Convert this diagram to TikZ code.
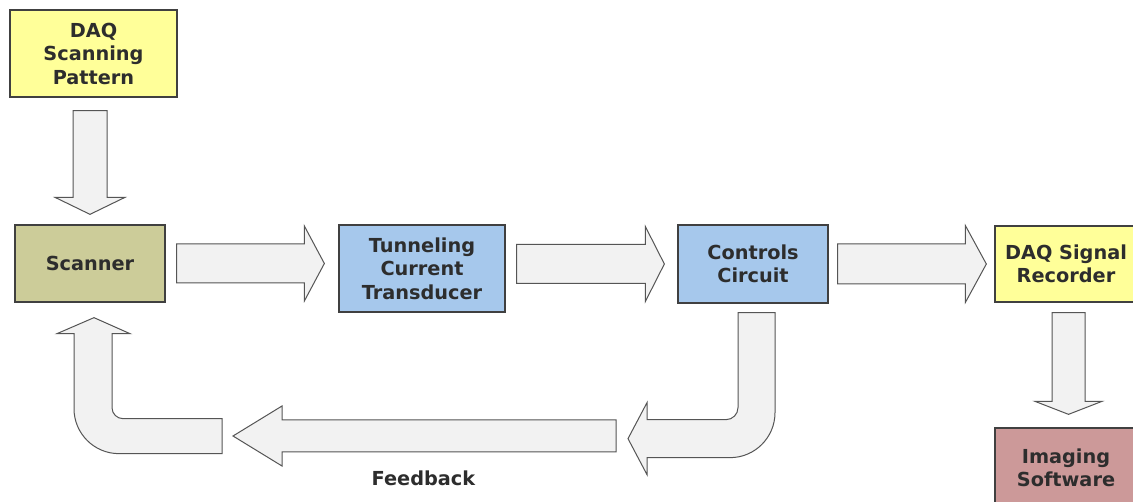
\documentclass[tikz,border=0pt]{standalone}
\usepackage{fontspec}
\setmainfont{DejaVu Sans}
\usetikzlibrary{calc}
\definecolor{padyellow}{RGB}{255,255,153}
\definecolor{scanolive}{RGB}{204,204,153}
\definecolor{ctlblue}{RGB}{166,200,236}
\definecolor{imgrose}{RGB}{204,153,153}
\definecolor{arrowfill}{RGB}{242,242,242}
\definecolor{arrowline}{RGB}{85,85,85}
\definecolor{boxline}{RGB}{64,64,64}
\definecolor{labeltext}{RGB}{45,45,45}
\tikzset{
  blockbox/.style={draw=boxline, line width=1.3pt, inner sep=0pt, align=center,
    text=labeltext, font=\bfseries\fontsize{19.3}{23.5}\selectfont},
  blk/.style={draw=arrowline, fill=arrowfill, line width=1pt, line join=miter},
  fblabel/.style={text=labeltext, font=\bfseries\fontsize{19.3}{23.5}\selectfont, inner sep=0pt}
}
\begin{document}
\begin{tikzpicture}[x=1pt, y=1pt]
\useasboundingbox (0,0) rectangle (1133,-502);
\clip (0,0) rectangle (1133,-502);
\fill[white] (0,0) rectangle (1133,-502);

% blocks
\node[blockbox, fill=padyellow, minimum width=167pt, minimum height=87pt] (pat) at (93.5,-53.5) {DAQ\\Scanning\\Pattern};
\node[blockbox, fill=scanolive, minimum width=150pt, minimum height=77pt] (scan) at (90,-263.5) {Scanner};
\node[blockbox, fill=ctlblue, minimum width=166pt, minimum height=87pt] (tct) at (422,-268.5) {Tunneling\\Current\\Transducer};
\node[blockbox, fill=ctlblue, minimum width=150pt, minimum height=78pt] (ctl) at (753,-264) {Controls\\Circuit};
\node[blockbox, fill=padyellow, minimum width=142pt, minimum height=76pt] (rec) at (1066,-264) {DAQ Signal\\Recorder};
\node[blockbox, fill=imgrose, minimum width=142pt, minimum height=80pt] (img) at (1066,-468) {Imaging\\Software};

% scanning pattern -> scanner
\draw[blk] let \p1=(pat.south), \p2=(scan.north) in
  (\x2-17,\y1-13) -- (\x2+17,\y1-13) -- (\x2+17,\y2+27) -- (\x2+35,\y2+27) -- (\x2,\y2+10)
  -- (\x2-35,\y2+27) -- (\x2-17,\y2+27) -- cycle;

% scanner -> transducer
\draw[blk] let \p1=(scan.east), \p2=(tct.west) in
  (\x1+11,\y1+19.5) -- (\x2-34,\y1+19.5) -- (\x2-34,\y1+37.5) -- (\x2-14,\y1)
  -- (\x2-34,\y1-37.5) -- (\x2-34,\y1-19.5) -- (\x1+11,\y1-19.5) -- cycle;

% transducer -> controls
\draw[blk] let \p1=(tct.east), \p2=(ctl.west) in
  (\x1+11,\y2+19.5) -- (\x2-32,\y2+19.5) -- (\x2-32,\y2+37.5) -- (\x2-13,\y2)
  -- (\x2-32,\y2-37.5) -- (\x2-32,\y2-19.5) -- (\x1+11,\y2-19.5) -- cycle;

% controls -> signal recorder
\draw[blk] let \p1=(ctl.east), \p2=(rec.west) in
  (\x1+9,\y2+20) -- (\x2-29,\y2+20) -- (\x2-29,\y2+38.5) -- (\x2-8,\y2)
  -- (\x2-29,\y2-38.5) -- (\x2-29,\y2-20) -- (\x1+9,\y2-20) -- cycle;

% signal recorder -> imaging software
\draw[blk] let \p1=(rec.south), \p2=(img.north) in
  (\x1-14,\y1-10) -- (\x1+19,\y1-10) -- (\x1+19,\y2+26) -- (\x1+36,\y2+26) -- (\x1+2.5,\y2+13)
  -- (\x1-31,\y2+26) -- (\x1-14,\y2+26) -- cycle;

% feedback: controls, bent down and to the left
\begin{scope}[shift={(ctl.south)}]
  \draw[blk] (-15,-9) -- (22,-9) -- (22,-109) arc[start angle=0, end angle=-90, radius=45]
    -- (-106,-154) -- (-106,-171) -- (-125,-135) -- (-106,-99) -- (-106,-116)
    -- (-27,-116) arc[start angle=-90, end angle=0, radius=12] -- cycle;
\end{scope}

% feedback: straight return path
\draw[blk] (616,-420) -- (282,-420) -- (282,-406) -- (233,-436) -- (282,-466)
  -- (282,-452) -- (616,-452) -- cycle;
\node[fblabel] (fb) at (423.5,-478) {Feedback};

% feedback: bent up into the scanner
\begin{scope}[shift={(scan.south)}]
  \draw[blk] (132,-116) -- (33,-116) arc[start angle=270, end angle=180, radius=11]
    -- (22,-31) -- (40,-31) -- (4,-15) -- (-33,-31) -- (-16,-31)
    -- (-16,-106) arc[start angle=180, end angle=270, radius=45] -- (132,-151) -- cycle;
\end{scope}
\end{tikzpicture}
\end{document}
